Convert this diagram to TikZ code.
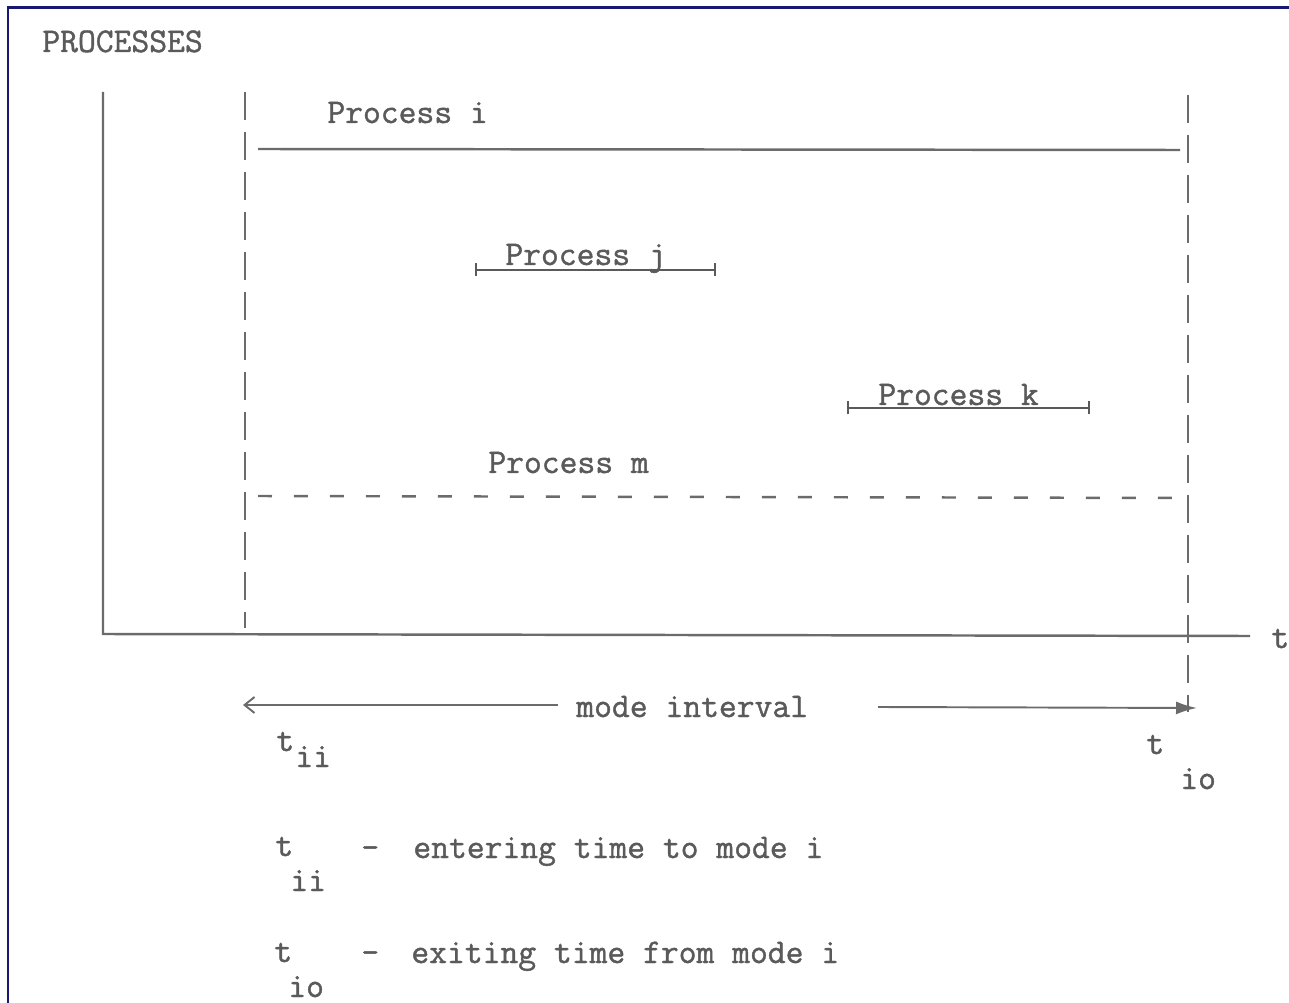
\documentclass[tikz,border=0pt]{standalone}
\usepackage{fontspec}
\newfontfamily\typefont{Latin Modern Mono}[FakeBold=1.2]
\usetikzlibrary{arrows.meta}

\definecolor{ink}{RGB}{90,90,90}
\definecolor{framecol}{RGB}{25,25,115}

\tikzset{
  typed/.style={inner sep=0pt, anchor=base west, text=ink,
    font=\fontsize{19.7}{23}\typefont},
  axisline/.style={draw=ink!90, line width=1.4pt},
  bound/.style={draw=ink!90, line width=1.4pt, dash pattern=on 0.56cm off 0.24cm},
  spanline/.style={draw=ink, line width=1.1pt, {Bar[width=0.26cm]}-{Bar[width=0.26cm]}},
}

\begin{document}
\begin{tikzpicture}[x=0.02cm,y=-0.02cm]
\useasboundingbox (0,0) rectangle (1289,1003);
\draw[framecol, line width=0.06cm] (8,1003) -- (8,8) -- (1289,8);

% axes
\coordinate (o) at (103,634);
\coordinate (ytop) at (103,92);
\coordinate (xend) at (1250,636);
\draw[axisline] (ytop) -- (o) -- (xend);
\node[typed] (plab) at (42,52) {PROCESSES};
\node[typed] (tlab) at (1271,648) {t};

% mode boundaries
\coordinate (in top) at (245,92);
\coordinate (in bot) at (245,628);
\coordinate (out top) at (1188,95);
\coordinate (out bot) at (1188,712);
\draw[bound] (in top) -- (in bot);
\draw[bound] (out top) -- (out bot);

% processes
\coordinate (i1) at (258,149);
\coordinate (i2) at (1180,150);
\draw[axisline] (i1) -- (i2);
\node[typed] (pi) at (327,123) {Process i};

\coordinate (j1) at (475,270);
\coordinate (j2) at (716,270);
\draw[spanline] (j1) -- (j2);
\node[typed] (pj) at (505,265) {Process j};

\coordinate (k1) at (847,408);
\coordinate (k2) at (1090,408);
\draw[spanline] (k1) -- (k2);
\node[typed] (pk) at (878,405) {Process k};

\coordinate (m1) at (258,496);
\coordinate (m2) at (1185,498);
\draw[axisline, dash pattern=on 0.28cm off 0.44cm] (m1) -- (m2);
\node[typed] (pm) at (488,473) {Process m};

% mode interval
\coordinate (a1) at (243,705);
\coordinate (a2) at (558,705);
\coordinate (b1) at (878,707);
\coordinate (b2) at (1197,708);
\node[typed] (mode) at (576,717) {mode interval};
\draw[axisline, line width=1.1pt, {Straight Barb[length=0.2cm,width=0.32cm]}-] (a1) -- (a2);
\draw[axisline, line width=1.1pt, -{Latex[length=0.42cm,width=0.26cm]}] (b1) -- (b2);

\node[typed] (tii) at (276,751) {t};
\node[typed] (ii) at (295,767) {ii};
\node[typed] (tio) at (1146,754) {t};
\node[typed] (io) at (1180,789) {io};

% legend
\node[typed] (lt1) at (275,856) {t};
\node[typed] (ls1) at (290,891) {ii};
\node[typed] (ld1) at (361,858) {-};
\node[typed] (lx1) at (413,858) {entering time to mode i};
\node[typed] (lt2) at (274,962) {t};
\node[typed] (ls2) at (288,997) {io};
\node[typed] (ld2) at (361,963) {-};
\node[typed] (lx2) at (411,963) {exiting time from mode i};
\end{tikzpicture}
\end{document}
